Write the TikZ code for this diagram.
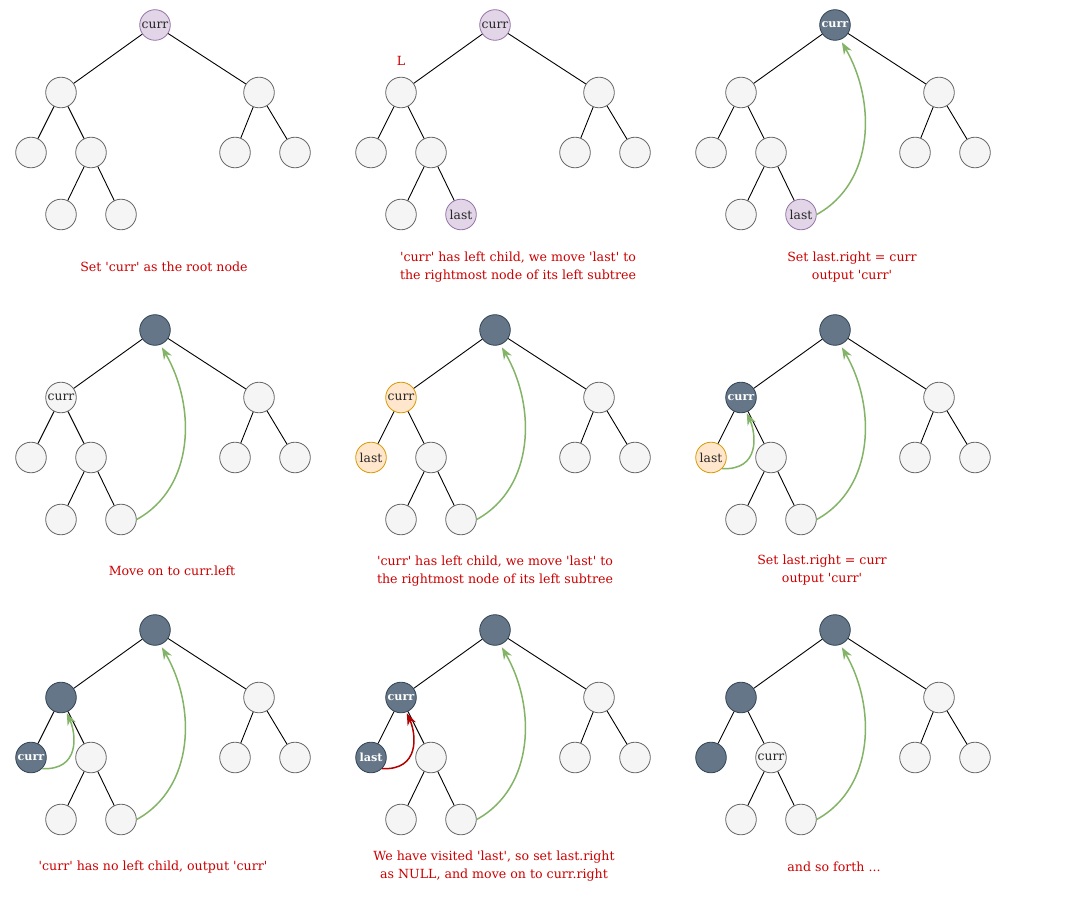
\documentclass[tikz,border=0pt]{standalone}
\usepackage{fontspec}
\setmainfont{DejaVu Serif}
\usetikzlibrary{arrows.meta}

\definecolor{nodefill}{HTML}{F5F5F5}
\definecolor{nodeline}{HTML}{666666}
\definecolor{purpfill}{HTML}{E1D5E7}
\definecolor{purpline}{HTML}{9673A6}
\definecolor{orngfill}{HTML}{FFE6CC}
\definecolor{orngline}{HTML}{D79B00}
\definecolor{darkfill}{HTML}{647687}
\definecolor{darkline}{HTML}{314354}
\definecolor{arrgreen}{HTML}{82B366}
\definecolor{arrred}{HTML}{B20000}
\definecolor{capred}{HTML}{CC0000}

\newcommand{\sq}{\textquotesingle}

\begin{document}
\begin{tikzpicture}[x=1pt, y=-1pt,
    plain/.style={shape=circle, draw=nodeline, fill=nodefill, line width=0.8pt,
                  minimum size=30.6pt, inner sep=0pt, text=black!85,
                  font=\fontsize{12.3}{14}\selectfont},
    purp/.style={plain, draw=purpline, fill=purpfill},
    orng/.style={plain, draw=orngline, fill=orngfill},
    dark/.style={plain, draw=darkline, fill=darkfill, text=white,
                 font=\fontsize{11.2}{13}\selectfont\bfseries},
    edge/.style={draw=black, line width=0.9pt},
    caption/.style={text=capred, align=center, font=\fontsize{12.6}{18}\selectfont},
    garrow/.style={draw=arrgreen, line width=1.5pt, -{Stealth[length=12pt,width=9pt]}},
    rarrow/.style={draw=arrred, line width=1.5pt, -{Stealth[length=12pt,width=9pt]}}]
    \useasboundingbox (0,0) rectangle (1071,901);

    % step 1
    \begin{scope}[shift={(0,0)}]
    \node[purp] at (155,25) (a1) {curr};
    \node[plain] at (61,92.5) (a2) {};
    \node[plain] at (259,92.5) (a3) {};
    \node[plain] at (31,152.5) (a4) {};
    \node[plain] at (91,152.5) (a5) {};
    \node[plain] at (235,152.5) (a6) {};
    \node[plain] at (295,152.5) (a7) {};
    \node[plain] at (61,214.5) (a10) {};
    \node[plain] at (121,214.5) (a11) {};
    \node[caption] at (164,267) (acap) {Set \sq curr\sq{} as the root node};
    \end{scope}

    % step 2
    \begin{scope}[shift={(340,0)}]
    \node[purp] at (155,25) (b1) {curr};
    \node[plain] at (61,92.5) (b2) {};
    \node[plain] at (259,92.5) (b3) {};
    \node[plain] at (31,152.5) (b4) {};
    \node[plain] at (91,152.5) (b5) {};
    \node[plain] at (235,152.5) (b6) {};
    \node[plain] at (295,152.5) (b7) {};
    \node[plain] at (61,214.5) (b10) {};
    \node[purp] at (121,214.5) (b11) {last};
    \node[caption] at (61,61) (bL) {L};
    \node[caption] at (178,267) (bcap) {\sq curr\sq{} has left child, we move \sq last\sq{} to\\the rightmost node of its left subtree};
    \end{scope}

    % step 3
    \begin{scope}[shift={(680,0)}]
    \node[dark] at (155,25) (c1) {curr};
    \node[plain] at (61,92.5) (c2) {};
    \node[plain] at (259,92.5) (c3) {};
    \node[plain] at (31,152.5) (c4) {};
    \node[plain] at (91,152.5) (c5) {};
    \node[plain] at (235,152.5) (c6) {};
    \node[plain] at (295,152.5) (c7) {};
    \node[plain] at (61,214.5) (c10) {};
    \node[purp] at (121,214.5) (c11) {last};
    \node[caption] at (172,267) (ccap) {Set last.right = curr\\output \sq curr\sq};
    \end{scope}

    % step 4
    \begin{scope}[shift={(0,305)}]
    \node[dark] at (155,25) (d1) {};
    \node[plain] at (61,92.5) (d2) {curr};
    \node[plain] at (259,92.5) (d3) {};
    \node[plain] at (31,152.5) (d4) {};
    \node[plain] at (91,152.5) (d5) {};
    \node[plain] at (235,152.5) (d6) {};
    \node[plain] at (295,152.5) (d7) {};
    \node[plain] at (61,214.5) (d10) {};
    \node[plain] at (121,214.5) (d11) {};
    \node[caption] at (172,266) (dcap) {Move on to curr.left};
    \end{scope}

    % step 5
    \begin{scope}[shift={(340,305)}]
    \node[dark] at (155,25) (e1) {};
    \node[orng] at (61,92.5) (e2) {curr};
    \node[plain] at (259,92.5) (e3) {};
    \node[orng] at (31,152.5) (e4) {last};
    \node[plain] at (91,152.5) (e5) {};
    \node[plain] at (235,152.5) (e6) {};
    \node[plain] at (295,152.5) (e7) {};
    \node[plain] at (61,214.5) (e10) {};
    \node[plain] at (121,214.5) (e11) {};
    \node[caption] at (155,266.5) (ecap) {\sq curr\sq{} has left child, we move \sq last\sq{} to\\the rightmost node of its left subtree};
    \end{scope}

    % step 6
    \begin{scope}[shift={(680,305)}]
    \node[dark] at (155,25) (f1) {};
    \node[dark] at (61,92.5) (f2) {curr};
    \node[plain] at (259,92.5) (f3) {};
    \node[orng] at (31,152.5) (f4) {last};
    \node[plain] at (91,152.5) (f5) {};
    \node[plain] at (235,152.5) (f6) {};
    \node[plain] at (295,152.5) (f7) {};
    \node[plain] at (61,214.5) (f10) {};
    \node[plain] at (121,214.5) (f11) {};
    \node[caption] at (142,265) (fcap) {Set last.right = curr\\output \sq curr\sq};
    \end{scope}

    % step 7
    \begin{scope}[shift={(0,605)}]
    \node[dark] at (155,25) (g1) {};
    \node[dark] at (61,92.5) (g2) {};
    \node[plain] at (259,92.5) (g3) {};
    \node[dark] at (31,152.5) (g4) {curr};
    \node[plain] at (91,152.5) (g5) {};
    \node[plain] at (235,152.5) (g6) {};
    \node[plain] at (295,152.5) (g7) {};
    \node[plain] at (61,214.5) (g10) {};
    \node[plain] at (121,214.5) (g11) {};
    \node[caption] at (153,262) (gcap) {\sq curr\sq{} has no left child, output \sq curr\sq};
    \end{scope}

    % step 8
    \begin{scope}[shift={(340,605)}]
    \node[dark] at (155,25) (h1) {};
    \node[dark] at (61,92.5) (h2) {curr};
    \node[plain] at (259,92.5) (h3) {};
    \node[dark] at (31,152.5) (h4) {last};
    \node[plain] at (91,152.5) (h5) {};
    \node[plain] at (235,152.5) (h6) {};
    \node[plain] at (295,152.5) (h7) {};
    \node[plain] at (61,214.5) (h10) {};
    \node[plain] at (121,214.5) (h11) {};
    \node[caption] at (154,261) (hcap) {We have visited \sq last\sq, so set last.right\\as NULL, and move on to curr.right};
    \end{scope}

    % step 9
    \begin{scope}[shift={(680,605)}]
    \node[dark] at (155,25) (i1) {};
    \node[dark] at (61,92.5) (i2) {};
    \node[plain] at (259,92.5) (i3) {};
    \node[dark] at (31,152.5) (i4) {};
    \node[plain] at (91,152.5) (i5) {curr};
    \node[plain] at (235,152.5) (i6) {};
    \node[plain] at (295,152.5) (i7) {};
    \node[plain] at (61,214.5) (i10) {};
    \node[plain] at (121,214.5) (i11) {};
    \node[caption] at (154,262) (icap) {and so forth ...};
    \end{scope}

    % tree edges
    \foreach \t in {a,b,c,d,e,f,g,h,i}
        \foreach \p/\c in {1/2,1/3,2/4,2/5,3/6,3/7,5/10,5/11}
            \draw[edge] (\t\p) -- (\t\c);

    % threads back to curr
    \foreach \t in {c,d,e,f,g,h,i}
        \draw[garrow, shorten >=3pt] (\t11.east) .. controls +(58,-32) and +(36,62) .. (\t1.-70);
    \draw[garrow, shorten >=1pt] (f4.-45) .. controls +(38,2) and +(10,22) .. (f2.-70);
    \draw[garrow, shorten >=1pt] (g4.-45) .. controls +(38,2) and +(10,22) .. (g2.-70);
    \draw[rarrow, shorten >=1pt] (h4.-45) .. controls +(38,2) and +(10,22) .. (h2.-70);
\end{tikzpicture}
\end{document}
